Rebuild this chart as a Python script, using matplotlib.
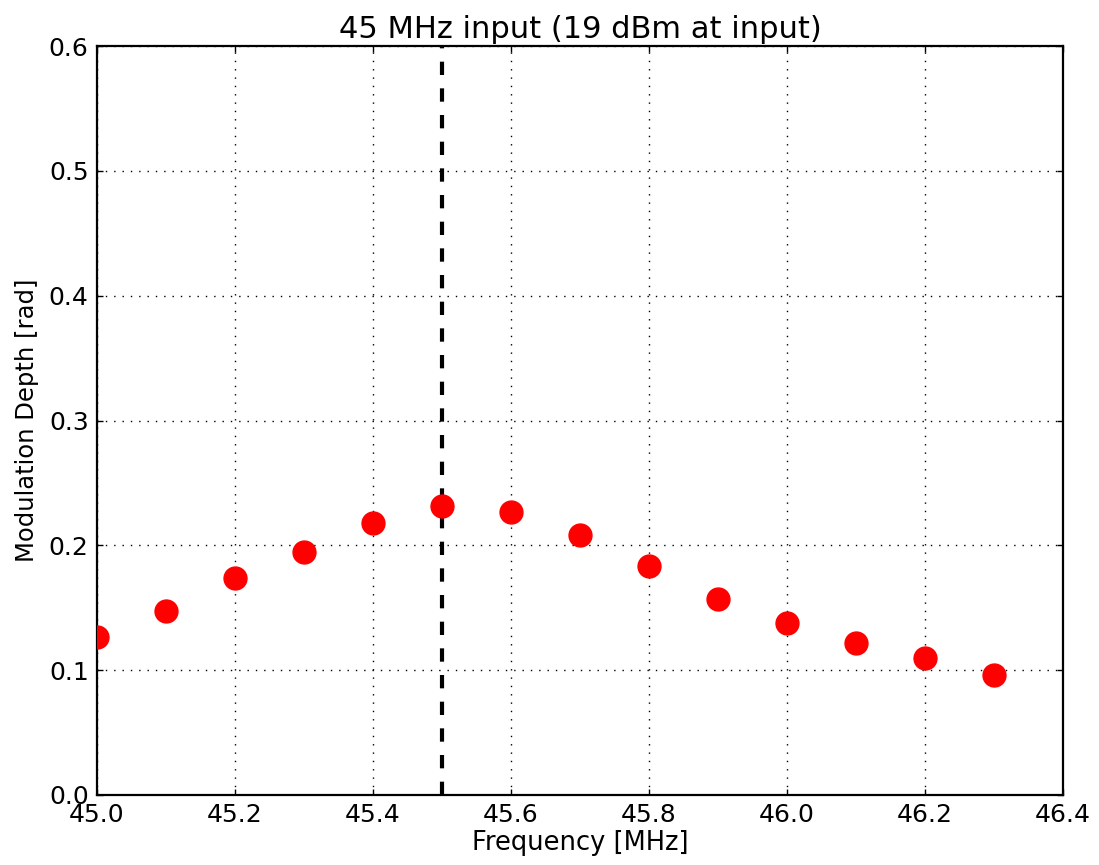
import numpy as np
import matplotlib
matplotlib.use("Agg")
import matplotlib.pyplot as plt

# data
freq = [45.0, 45.1, 45.2, 45.3, 45.4, 45.5, 45.6, 45.7, 45.8, 45.9, 46.0, 46.1, 46.2, 46.3]
depth = [0.1268, 0.1474, 0.1741, 0.1944, 0.2179, 0.2318, 0.2270, 0.2083,
         0.1837, 0.1570, 0.1376, 0.1220, 0.1098, 0.0959]
center_freq = 45.5

fig = plt.figure(figsize=(10.99, 8.65), dpi=100)
ax = fig.add_axes([97 / 1099, 1 - 795 / 865, 966 / 1099, 749 / 865])

ax.plot(freq, depth, 'o', color='red', markersize=16.5, markeredgecolor='red', zorder=3)
ax.axvline(center_freq, color='black', linestyle=(0, (3.2, 3.2)), linewidth=3, zorder=2)

ax.set_xlim(45.0, 46.4)
ax.set_ylim(0.0, 0.6)
ax.set_xticks(np.arange(45.0, 46.41, 0.2))
ax.set_yticks(np.arange(0.0, 0.61, 0.1))
ax.xaxis.set_major_formatter(matplotlib.ticker.FormatStrFormatter('%.1f'))
ax.yaxis.set_major_formatter(matplotlib.ticker.FormatStrFormatter('%.1f'))
ax.tick_params(direction='in', top=True, right=True, length=4, width=1, labelsize=18, pad=6)
ax.grid(True, linestyle=(0, (1, 5)), color='black', linewidth=1)
for s in ax.spines.values():
    s.set_linewidth(1.6)

ax.set_xlabel("Frequency [MHz]", fontsize=18.5, labelpad=2)
ax.set_ylabel("Modulation Depth [rad]", fontsize=17.5, labelpad=7)
ax.set_title("45 MHz input (19 dBm at input)", fontsize=22, pad=6)

fig.savefig("out.png", dpi=100, facecolor='white')
